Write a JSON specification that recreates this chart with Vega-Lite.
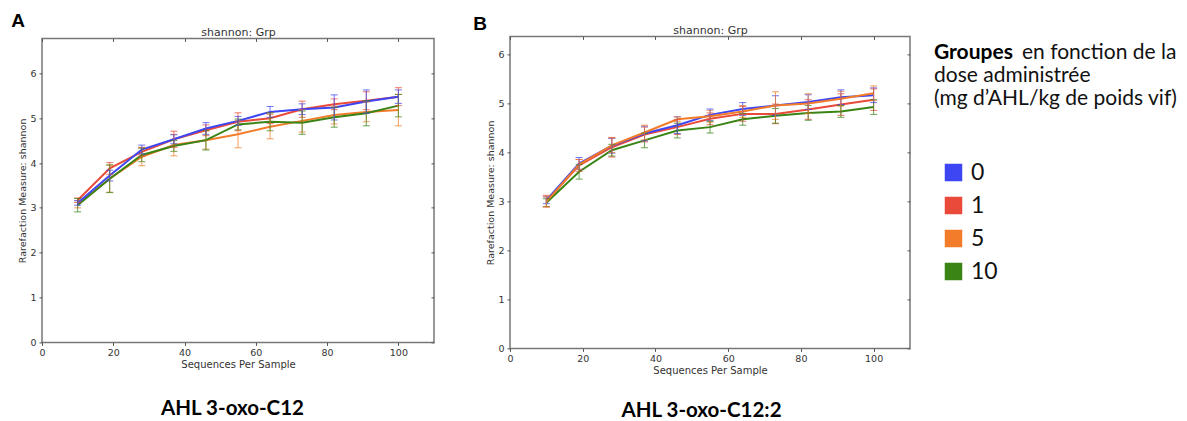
{
  "$schema": "https://vega.github.io/schema/vega-lite/v6.json",
  "padding": {"left": 10, "top": 11, "right": 0, "bottom": 0},
  "background": "white",
  "datasets": {
    "curves": [
      {"panel":"A","grp":"1","seq":10,"mean":3.17,"err":0.05},{"panel":"A","grp":"1","seq":19,"mean":3.88,"err":0.13},{"panel":"A","grp":"1","seq":28,"mean":4.25,"err":0.1},{"panel":"A","grp":"1","seq":37,"mean":4.53,"err":0.18},{"panel":"A","grp":"1","seq":46,"mean":4.73,"err":0.12},{"panel":"A","grp":"1","seq":55,"mean":4.92,"err":0.2},{"panel":"A","grp":"1","seq":64,"mean":5.0,"err":0.12},{"panel":"A","grp":"1","seq":73,"mean":5.2,"err":0.18},{"panel":"A","grp":"1","seq":82,"mean":5.31,"err":0.12},{"panel":"A","grp":"1","seq":91,"mean":5.39,"err":0.2},{"panel":"A","grp":"1","seq":100,"mean":5.48,"err":0.2},
      {"panel":"A","grp":"5","seq":10,"mean":3.08,"err":0.08},{"panel":"A","grp":"5","seq":19,"mean":3.65,"err":0.3},{"panel":"A","grp":"5","seq":28,"mean":4.14,"err":0.2},{"panel":"A","grp":"5","seq":37,"mean":4.4,"err":0.24},{"panel":"A","grp":"5","seq":46,"mean":4.51,"err":0.2},{"panel":"A","grp":"5","seq":55,"mean":4.64,"err":0.3},{"panel":"A","grp":"5","seq":64,"mean":4.81,"err":0.27},{"panel":"A","grp":"5","seq":73,"mean":4.94,"err":0.25},{"panel":"A","grp":"5","seq":82,"mean":5.07,"err":0.2},{"panel":"A","grp":"5","seq":91,"mean":5.14,"err":0.22},{"panel":"A","grp":"5","seq":100,"mean":5.18,"err":0.35},
      {"panel":"A","grp":"10","seq":10,"mean":3.06,"err":0.15},{"panel":"A","grp":"10","seq":19,"mean":3.65,"err":0.31},{"panel":"A","grp":"10","seq":28,"mean":4.18,"err":0.15},{"panel":"A","grp":"10","seq":37,"mean":4.38,"err":0.12},{"panel":"A","grp":"10","seq":46,"mean":4.51,"err":0.22},{"panel":"A","grp":"10","seq":55,"mean":4.86,"err":0.12},{"panel":"A","grp":"10","seq":64,"mean":4.92,"err":0.2},{"panel":"A","grp":"10","seq":73,"mean":4.9,"err":0.26},{"panel":"A","grp":"10","seq":82,"mean":5.02,"err":0.22},{"panel":"A","grp":"10","seq":91,"mean":5.11,"err":0.28},{"panel":"A","grp":"10","seq":100,"mean":5.28,"err":0.25},
      {"panel":"A","grp":"0","seq":10,"mean":3.11,"err":0.05},{"panel":"A","grp":"0","seq":19,"mean":3.72,"err":0.12},{"panel":"A","grp":"0","seq":28,"mean":4.3,"err":0.1},{"panel":"A","grp":"0","seq":37,"mean":4.53,"err":0.1},{"panel":"A","grp":"0","seq":46,"mean":4.77,"err":0.13},{"panel":"A","grp":"0","seq":55,"mean":4.94,"err":0.1},{"panel":"A","grp":"0","seq":64,"mean":5.14,"err":0.12},{"panel":"A","grp":"0","seq":73,"mean":5.2,"err":0.12},{"panel":"A","grp":"0","seq":82,"mean":5.24,"err":0.28},{"panel":"A","grp":"0","seq":91,"mean":5.37,"err":0.26},{"panel":"A","grp":"0","seq":100,"mean":5.48,"err":0.15},
      {"panel":"B","grp":"1","seq":10,"mean":3.0,"err":0.12},{"panel":"B","grp":"1","seq":19,"mean":3.73,"err":0.12},{"panel":"B","grp":"1","seq":28,"mean":4.1,"err":0.2},{"panel":"B","grp":"1","seq":37,"mean":4.36,"err":0.15},{"panel":"B","grp":"1","seq":46,"mean":4.51,"err":0.15},{"panel":"B","grp":"1","seq":55,"mean":4.68,"err":0.12},{"panel":"B","grp":"1","seq":64,"mean":4.78,"err":0.15},{"panel":"B","grp":"1","seq":73,"mean":4.78,"err":0.2},{"panel":"B","grp":"1","seq":82,"mean":4.87,"err":0.2},{"panel":"B","grp":"1","seq":91,"mean":4.97,"err":0.22},{"panel":"B","grp":"1","seq":100,"mean":5.07,"err":0.22},
      {"panel":"B","grp":"10","seq":10,"mean":2.97,"err":0.08},{"panel":"B","grp":"10","seq":19,"mean":3.6,"err":0.15},{"panel":"B","grp":"10","seq":28,"mean":4.04,"err":0.12},{"panel":"B","grp":"10","seq":37,"mean":4.24,"err":0.15},{"panel":"B","grp":"10","seq":46,"mean":4.44,"err":0.15},{"panel":"B","grp":"10","seq":55,"mean":4.51,"err":0.12},{"panel":"B","grp":"10","seq":64,"mean":4.67,"err":0.12},{"panel":"B","grp":"10","seq":73,"mean":4.74,"err":0.15},{"panel":"B","grp":"10","seq":82,"mean":4.8,"err":0.15},{"panel":"B","grp":"10","seq":91,"mean":4.83,"err":0.12},{"panel":"B","grp":"10","seq":100,"mean":4.92,"err":0.15},
      {"panel":"B","grp":"0","seq":10,"mean":3.02,"err":0.07},{"panel":"B","grp":"0","seq":19,"mean":3.77,"err":0.12},{"panel":"B","grp":"0","seq":28,"mean":4.13,"err":0.15},{"panel":"B","grp":"0","seq":37,"mean":4.38,"err":0.15},{"panel":"B","grp":"0","seq":46,"mean":4.55,"err":0.17},{"panel":"B","grp":"0","seq":55,"mean":4.76,"err":0.12},{"panel":"B","grp":"0","seq":64,"mean":4.88,"err":0.13},{"panel":"B","grp":"0","seq":73,"mean":4.95,"err":0.2},{"panel":"B","grp":"0","seq":82,"mean":5.02,"err":0.15},{"panel":"B","grp":"0","seq":91,"mean":5.12,"err":0.15},{"panel":"B","grp":"0","seq":100,"mean":5.16,"err":0.15},
      {"panel":"B","grp":"5","seq":10,"mean":2.99,"err":0.1},{"panel":"B","grp":"5","seq":19,"mean":3.75,"err":0.1},{"panel":"B","grp":"5","seq":28,"mean":4.14,"err":0.15},{"panel":"B","grp":"5","seq":37,"mean":4.4,"err":0.15},{"panel":"B","grp":"5","seq":46,"mean":4.67,"err":0.05},{"panel":"B","grp":"5","seq":55,"mean":4.73,"err":0.12},{"panel":"B","grp":"5","seq":64,"mean":4.83,"err":0.12},{"panel":"B","grp":"5","seq":73,"mean":4.95,"err":0.28},{"panel":"B","grp":"5","seq":82,"mean":4.99,"err":0.2},{"panel":"B","grp":"5","seq":91,"mean":5.09,"err":0.15},{"panel":"B","grp":"5","seq":100,"mean":5.2,"err":0.15}
    ],
    "tags": [
      {"panel": "A", "tag": "A"},
      {"panel": "B", "tag": "B"}
    ],
    "header": [
      {"line": 1, "bold": "Groupes", "rest": "en fonction de la"},
      {"line": 2, "bold": "", "rest": "dose administrée"},
      {"line": 3, "bold": "", "rest": "(mg d’AHL/kg de poids vif)"}
    ]
  },
  "hconcat": [
    {
      "center": true,
      "hconcat": [
        {
          "width": 392, "height": 304,
          "layer": [
            {
              "data": {"name": "curves"},
              "transform": [{"filter": "datum.panel === 'A'"}],
              "mark": {"type": "line", "strokeWidth": 2},
              "encoding": {
                "x": {"field": "seq", "type": "quantitative", "scale": {"domain": [0, 110], "nice": false}, "axis": {"orient": "bottom", "values": [0, 20, 40, 60, 80, 100], "title": "Sequences Per Sample", "labelFlush": false, "labelPadding": 2, "titlePadding": 3, "titleFontSize": 10}},
                "y": {"field": "mean", "type": "quantitative", "scale": {"domain": [0, 6.78], "nice": false}, "axis": {"orient": "left", "values": [0, 1, 2, 3, 4, 5, 6], "title": "Rarefaction Measure: shannon", "labelPadding": 3, "titlePadding": 2}},
                "color": {"field": "grp", "type": "nominal", "scale": {"domain": ["0", "1", "5", "10"], "range": ["#3e45f2", "#ea4a3a", "#f27c2a", "#3a8416"]}, "legend": {"orient": "none", "legendX": 900, "legendY": 125, "title": null, "symbolType": "square", "symbolSize": 256, "symbolStrokeColor": "#3d4a66", "symbolStrokeWidth": 1.5, "symbolOpacity": 1, "labelFont": "Lato", "labelFontSize": 23, "labelColor": "#111", "labelOffset": 6, "rowPadding": 9, "encode": {"symbols": {"update": {"fill": {"scale": "color", "field": "value"}, "fillOpacity": {"value": 1}, "opacity": {"value": 1}, "stroke": {"value": "#3d4a66"}}}}}}
              }
            },
            {
              "data": {"name": "curves"},
              "transform": [{"filter": "datum.panel === 'A'"}],
              "mark": {"type": "errorbar", "ticks": {"size": 7}, "thickness": 1, "opacity": 0.75},
              "encoding": {
                "x": {"field": "seq", "type": "quantitative", "axis": {"orient": "top", "values": [0, 20, 40, 60, 80, 100], "labels": false, "tickSize": -3, "title": "shannon: Grp", "titleFontSize": 11, "titlePadding": 0}},
                "y": {"field": "mean", "type": "quantitative", "axis": {"orient": "right", "values": [0, 1, 2, 3, 4, 5, 6], "labels": false, "tickSize": -3, "title": null}},
                "yError": {"field": "err"},
                "color": {"field": "grp", "type": "nominal"}
              }
            },
            {
              "data": {"name": "tags"},
              "transform": [{"filter": "datum.panel === 'A'"}],
              "mark": {"type": "text", "align": "center", "baseline": "middle", "font": "Liberation Sans", "fontSize": 19, "fontWeight": "bold", "color": "#000"},
              "encoding": {
                "x": {"datum": -6.7, "type": "quantitative", "axis": {"orient": "bottom", "labels": false, "ticks": false, "domain": false, "title": "AHL 3-oxo-C12", "titleFont": "Lato", "titleFontSize": 20.5, "titleFontWeight": "bold", "titleColor": "#000", "titlePadding": 56, "titleX": 190}},
                "y": {"datum": 7.16, "type": "quantitative", "axis": null},
                "text": {"field": "tag"}
              }
            }
          ],
          "resolve": {"axis": {"x": "independent", "y": "independent"}}
        },
        {
          "width": 400, "height": 312,
          "layer": [
            {
              "data": {"name": "curves"},
              "transform": [{"filter": "datum.panel === 'B'"}],
              "mark": {"type": "line", "strokeWidth": 2},
              "encoding": {
                "x": {"field": "seq", "type": "quantitative", "scale": {"domain": [0, 110], "nice": false}, "axis": {"orient": "bottom", "values": [0, 20, 40, 60, 80, 100], "title": "Sequences Per Sample", "labelFlush": false, "labelPadding": 2, "titlePadding": 3, "titleFontSize": 10}},
                "y": {"field": "mean", "type": "quantitative", "scale": {"domain": [0, 6.36], "nice": false}, "axis": {"orient": "left", "values": [0, 1, 2, 3, 4, 5, 6], "title": "Rarefaction Measure: shannon", "labelPadding": 3, "titlePadding": 2}},
                "color": {"field": "grp", "type": "nominal"}
              }
            },
            {
              "data": {"name": "curves"},
              "transform": [{"filter": "datum.panel === 'B'"}],
              "mark": {"type": "errorbar", "ticks": {"size": 7}, "thickness": 1, "opacity": 0.75},
              "encoding": {
                "x": {"field": "seq", "type": "quantitative", "axis": {"orient": "top", "values": [0, 20, 40, 60, 80, 100], "labels": false, "tickSize": -3, "title": "shannon: Grp", "titleFontSize": 11, "titlePadding": 0}},
                "y": {"field": "mean", "type": "quantitative", "axis": {"orient": "right", "values": [0, 1, 2, 3, 4, 5, 6], "labels": false, "tickSize": -3, "title": null}},
                "yError": {"field": "err"},
                "color": {"field": "grp", "type": "nominal"}
              }
            },
            {
              "data": {"name": "tags"},
              "transform": [{"filter": "datum.panel === 'B'"}],
              "mark": {"type": "text", "align": "center", "baseline": "middle", "font": "Liberation Sans", "fontSize": 19, "fontWeight": "bold", "color": "#000"},
              "encoding": {
                "x": {"datum": -8.2, "type": "quantitative", "axis": {"orient": "bottom", "labels": false, "ticks": false, "domain": false, "title": "AHL 3-oxo-C12:2", "titleFont": "Lato", "titleFontSize": 20.5, "titleFontWeight": "bold", "titleColor": "#000", "titlePadding": 52, "titleX": 191}},
                "y": {"datum": 6.62, "type": "quantitative", "axis": null},
                "text": {"field": "tag"}
              }
            }
          ],
          "resolve": {"axis": {"x": "independent", "y": "independent"}}
        }
      ],
      "spacing": 36
    },
    {
      "width": 240, "height": 300,
      "view": {"stroke": null},
      "data": {"name": "header"},
      "layer": [
        {
          "mark": {"type": "text", "align": "left", "baseline": "alphabetic", "font": "Lato", "fontSize": 21, "fontWeight": "bold", "color": "#000"},
          "encoding": {
            "x": {"datum": 0, "type": "quantitative", "scale": {"domain": [0, 1]}, "axis": null},
            "y": {"field": "line", "type": "quantitative", "scale": {"domain": [12.766, 0]}, "axis": null},
            "text": {"field": "bold"}
          }
        },
        {
          "transform": [{"filter": "datum.line === 1"}],
          "mark": {"type": "text", "align": "left", "baseline": "alphabetic", "font": "Lato", "fontSize": 21, "color": "#111", "dx": 88},
          "encoding": {
            "x": {"datum": 0, "type": "quantitative"},
            "y": {"field": "line", "type": "quantitative"},
            "text": {"field": "rest"}
          }
        },
        {
          "transform": [{"filter": "datum.line > 1"}],
          "mark": {"type": "text", "align": "left", "baseline": "alphabetic", "font": "Lato", "fontSize": 21, "color": "#111"},
          "encoding": {
            "x": {"datum": 0, "type": "quantitative"},
            "y": {"field": "line", "type": "quantitative"},
            "text": {"field": "rest"}
          }
        }
      ]
    }
  ],
  "spacing": 22,
  "config": {
    "view": {"stroke": "#777", "strokeWidth": 1.5},
    "axis": {"labelFont": "DejaVu Sans", "labelFontSize": 9.5, "labelColor": "#333", "titleFont": "DejaVu Sans", "titleFontSize": 9.5, "titleFontWeight": "normal", "titleColor": "#333", "domain": false, "grid": false, "tickColor": "#555", "tickSize": 3},
    "title": {"font": "Lato"}
  }
}
